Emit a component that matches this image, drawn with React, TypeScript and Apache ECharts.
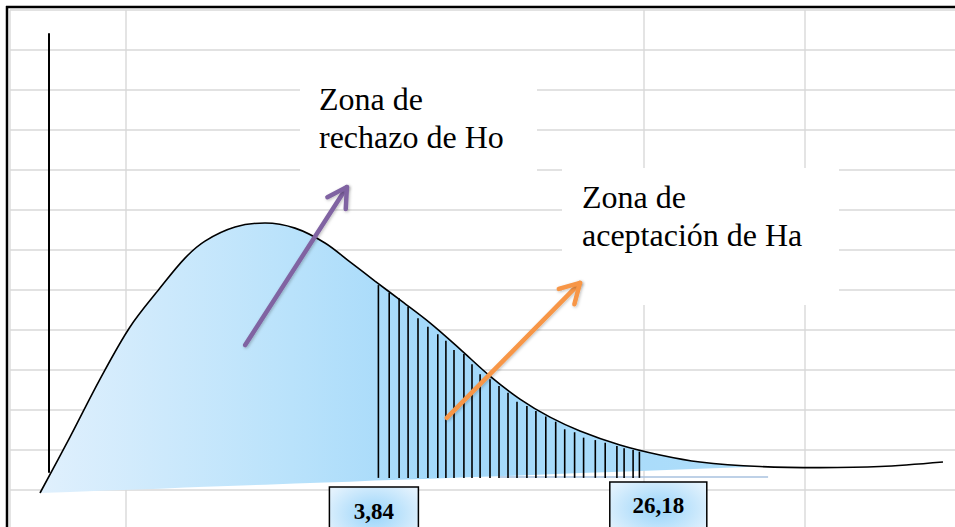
import React, { useEffect, useRef } from "react";
import * as echarts from "echarts";

// ---- data (abstract chart units: x along the distribution, y = density) ----
const curveX = [-1, 2.33, 5.67, 9.0, 12.33, 15.11, 17.33, 20.67, 24.0, 27.33, 30.67, 33.44, 36.22, 39.0, 42.33, 45.67, 49.0, 52.33, 55.67, 59.0, 63.44, 67.89, 72.33, 79.0, 85.67, 92.33, 99.33];
const curveY = [0, 20.7, 42.2, 61.5, 75.9, 87.0, 93.3, 98.5, 100.0, 98.1, 92.6, 85.6, 78.5, 71.5, 63.0, 53.3, 43.3, 34.8, 28.1, 23.0, 17.8, 14.1, 11.5, 9.8, 9.4, 9.8, 11.5];
// lower edge of the shaded area (first 24 curve points)
const fillFloor = [0, 0.4, 0.8, 1.2, 1.6, 2.0, 2.3, 2.7, 3.1, 3.5, 3.9, 4.2, 4.6, 4.9, 5.3, 5.7, 6.1, 6.5, 6.9, 7.4, 7.9, 8.4, 9.0, 9.8];

const hatchX = [36.6, 37.8, 38.9, 39.9, 41.0, 42.1, 43.2, 44.1, 45.0, 46.1, 47.0, 47.9, 49.0, 50.0, 51.0, 52.0, 53.1, 54.1, 55.2, 56.3, 57.3, 58.4, 59.4, 60.7, 61.8, 63.1, 63.9, 64.9, 65.6];
const hatchTop = [77.0, 74.2, 72.1, 69.0, 64.7, 61.6, 58.8, 56.4, 53.0, 51.5, 47.7, 44.0, 42.1, 39.6, 37.1, 33.8, 32.2, 30.4, 28.3, 26.4, 23.6, 22.5, 20.5, 19.6, 18.6, 17.4, 16.6, 15.9, 15.3];
const hatchFloor = 5.6;

const edgeX = [50.1, 79.9];
const edgeY = [5.9, 5.9];

const criticalLabels = ["3,84", "26,18"];
const criticalX = [36.1, 67.7];
const criticalTop = [2.2, 4.1];

const zoneLabels = [
  ["Zona de", "rechazo de Ho"],
  ["Zona de", "aceptación de Ha"],
];

const arrowTail = [
  [21.8, 54.8],
  [44.2, 27.8],
];
const arrowTip = [
  [33.1, 113.3],
  [59.0, 77.8],
];

// ---- styles / layout ----
const arrowColors = ["#8064A2", "#F79646"];
const boxWidths = [89, 97];
const sheetCols = [10, 126, 644, 805];
const sheetRows = [10, 50, 90, 130, 170, 210, 250, 290, 330, 370, 410, 450, 490];
const SERIF = "Times New Roman, Liberation Serif, serif";

export default function App() {
  const ref = useRef<HTMLDivElement>(null);

  useEffect(() => {
    if (!ref.current) return;
    const chart = echarts.init(ref.current, undefined, { renderer: "svg" });

    const gridLineStyle = { stroke: "#D9D9D9", lineWidth: 1.4 };
    const graphics: any[] = [];
    sheetRows.forEach((y) =>
      graphics.push({ type: "line", z: 0, silent: true, shape: { x1: 10, y1: y, x2: 955, y2: y }, style: gridLineStyle })
    );
    sheetCols.forEach((x) =>
      graphics.push({ type: "line", z: 0, silent: true, shape: { x1: x, y1: 10, x2: x, y2: 527 }, style: gridLineStyle })
    );
    // white text boxes
    graphics.push({ type: "rect", z: 1, shape: { x: 300, y: 60, width: 237, height: 128 }, style: { fill: "#fff" } });
    graphics.push({ type: "rect", z: 1, shape: { x: 562, y: 168, width: 277, height: 137 }, style: { fill: "#fff" } });
    const zoneTextStyle = { fontFamily: SERIF, fontSize: 32, fill: "#000", lineHeight: 38 };
    graphics.push({
      type: "text", z: 1, x: 319, y: 80,
      style: { ...zoneTextStyle, text: zoneLabels[0].join("\n") },
    });
    graphics.push({
      type: "text", z: 1, x: 582, y: 178,
      style: { ...zoneTextStyle, text: zoneLabels[1].join("\n") },
    });
    // frame
    graphics.push({ type: "line", z: 1, shape: { x1: 6, y1: 7, x2: 955, y2: 7 }, style: { stroke: "#000", lineWidth: 2.5 } });
    graphics.push({ type: "line", z: 1, shape: { x1: 7, y1: 6, x2: 7, y2: 527 }, style: { stroke: "#000", lineWidth: 2.5 } });

    const fillGradient = new echarts.graphic.LinearGradient(0, 0, 1, 0, [
      { offset: 0, color: "#E0F0FD" },
      { offset: 0.35, color: "#B9E2FB" },
      { offset: 0.55, color: "#A2D8FA" },
      { offset: 1, color: "#AFDEFA" },
    ]);

    const SMOOTH = 0.33;

    const option: any = {
      animation: false,
      backgroundColor: "#fff",
      grid: [
        { left: 40, right: 6, top: 7, bottom: 34 },
        { left: 49, top: 34, bottom: 55, width: 20 },
      ],
      xAxis: [
        { type: "value", min: -1, max: 100, show: false },
        { type: "value", gridIndex: 1, min: 0, max: 1, show: false },
      ],
      yAxis: [
        { type: "value", min: 0, max: 180, show: false },
        {
          type: "value", gridIndex: 1, min: 0, max: 1,
          axisLine: { show: true, onZero: false, lineStyle: { color: "#000", width: 2 } },
          axisTick: { show: false }, axisLabel: { show: false }, splitLine: { show: false },
        },
      ],
      graphic: { elements: graphics },
      series: [
        {
          // columns: [value, x] so that stacking happens on the y dimension
          type: "line", name: "floor", stack: "fill", symbol: "none", silent: true, z: 2,
          data: fillFloor.map((v, i) => [v, curveX[i]]),
          encode: { x: 1, y: 0 },
          lineStyle: { width: 0, opacity: 0 },
        },
        {
          type: "line", name: "fill", stack: "fill", symbol: "none", silent: true, z: 2, smooth: SMOOTH,
          data: fillFloor.map((v, i) => [curveY[i] - v, curveX[i]]),
          encode: { x: 1, y: 0 },
          lineStyle: { width: 0, opacity: 0 },
          areaStyle: { color: fillGradient, opacity: 1 },
        },
        {
          type: "line", name: "edge", symbol: "none", silent: true, z: 2,
          data: edgeX.map((x, i) => [x, edgeY[i]]),
          lineStyle: { color: "#A9C2DF", width: 1.5 },
        },
        {
          type: "custom", name: "hatch", z: 3, silent: true,
          data: hatchX.map((x, i) => [x, hatchTop[i], hatchFloor]),
          encode: { x: 0, y: [1, 2] },
          renderItem: (_p: any, api: any) => {
            const a = api.coord([api.value(0), api.value(1)]);
            const b = api.coord([api.value(0), api.value(2)]);
            return {
              type: "line",
              shape: { x1: a[0], y1: a[1], x2: b[0], y2: b[1] },
              style: { stroke: "#000", lineWidth: 1.6, fill: "none" },
            };
          },
        },
        {
          type: "line", name: "curve", symbol: "none", silent: true, z: 4, smooth: SMOOTH,
          data: curveX.map((x, i) => [x, curveY[i]]),
          lineStyle: { color: "#000", width: 1.6 },
        },
        {
          type: "custom", name: "arrows", z: 6, silent: true,
          data: arrowTail.map((t, i) => [t[0], t[1], arrowTip[i][0], arrowTip[i][1]]),
          encode: { x: [0, 2], y: [1, 3] },
          renderItem: (params: any, api: any) => {
            const a = api.coord([api.value(0), api.value(1)]);
            const b = api.coord([api.value(2), api.value(3)]);
            const ang = Math.atan2(a[1] - b[1], a[0] - b[0]);
            const len = 22;
            const spread = 0.52;
            const color = arrowColors[params.dataIndex];
            const st = {
              stroke: color, lineWidth: 4.5, lineCap: "round", lineJoin: "round", fill: "none",
              shadowBlur: 3, shadowColor: "rgba(0,0,0,0.25)", shadowOffsetX: 1, shadowOffsetY: 1,
            };
            return {
              type: "group",
              children: [
                { type: "line", shape: { x1: a[0], y1: a[1], x2: b[0], y2: b[1] }, style: st },
                {
                  type: "polyline",
                  shape: {
                    points: [
                      [b[0] + len * Math.cos(ang + spread), b[1] + len * Math.sin(ang + spread)],
                      [b[0], b[1]],
                      [b[0] + len * Math.cos(ang - spread), b[1] + len * Math.sin(ang - spread)],
                    ],
                  },
                  style: st,
                },
              ],
            };
          },
        },
        {
          type: "custom", name: "critical", z: 7, silent: true, clip: false,
          data: criticalX.map((x, i) => [x, criticalTop[i]]),
          encode: { x: 0, y: 1 },
          renderItem: (params: any, api: any) => {
            const p = api.coord([api.value(0), api.value(1)]);
            const w = boxWidths[params.dataIndex];
            const grad = new echarts.graphic.RadialGradient(0.5, 0.45, 0.6, [
              { offset: 0, color: "#98D4FA" },
              { offset: 1, color: "#E3F2FD" },
            ]);
            return {
              type: "group",
              children: [
                {
                  type: "rect",
                  shape: { x: p[0] - w / 2, y: p[1], width: w, height: 60 },
                  style: { fill: grad, stroke: "#000", lineWidth: 1.5 },
                },
                {
                  type: "text",
                  x: p[0],
                  y: p[1] + 24,
                  style: {
                    text: criticalLabels[params.dataIndex],
                    fontFamily: SERIF,
                    fontSize: 23,
                    fontWeight: "bold",
                    fill: "#000",
                    align: "center",
                    verticalAlign: "middle",
                  },
                },
              ],
            };
          },
        },
      ],
    };

    chart.setOption(option);
    return () => chart.dispose();
  }, []);

  return (
    <div
      ref={ref}
      style={{ position: "absolute", left: 0, top: 0, width: 955, height: 527, background: "#fff" }}
    />
  );
}
